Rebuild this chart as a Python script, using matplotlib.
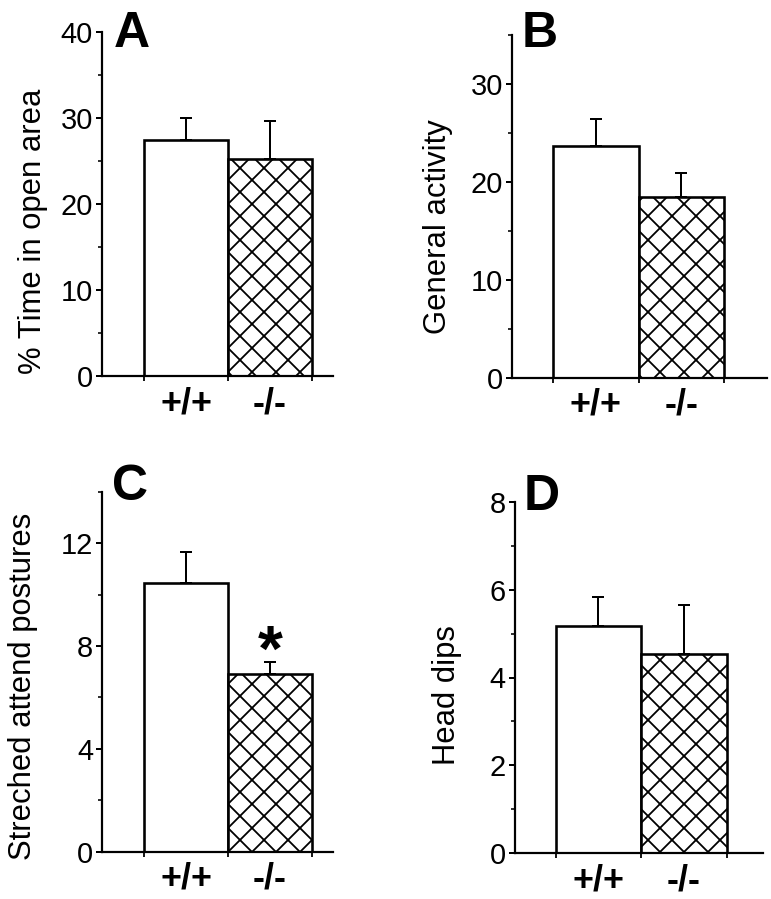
import matplotlib
matplotlib.use("Agg")
import matplotlib.pyplot as plt
from matplotlib.ticker import MultipleLocator

plt.rcParams['font.family'] = ['Liberation Sans', 'DejaVu Sans']
plt.rcParams['hatch.linewidth'] = 0.9

genotypes = ['+/+', '-/-']
panel_letters = ['A', 'B', 'C', 'D']
ylabels = ['% Time in open area', 'General activity',
           'Streched attend postures', 'Head dips']

time_open = [27.4, 25.2]
time_open_err = [2.6, 4.45]
activity = [23.7, 18.5]
activity_err = [2.75, 2.4]
sap = [10.44, 6.9]
sap_err = [1.23, 0.49]
head_dips = [5.17, 4.53]
head_dips_err = [0.66, 1.12]

means = [time_open, activity, sap, head_dips]
errs = [time_open_err, activity_err, sap_err, head_dips_err]
ymax = [40, 35, 14, 8]
major = [10, 10, 4, 2]

# axes boxes in figure fractions, x limits, label coords, letter positions
W, H = 771.0, 899.0
boxes = [
    [102 / W, 1 - 376 / H, 231 / W, 344 / H],
    [512 / W, 1 - 377.7 / H, 255 / W, 342.7 / H],
    [102 / W, 1 - 851.7 / H, 231 / W, 360 / H],
    [515 / W, 1 - 853.3 / H, 248 / W, 351.6 / H],
]
xlims = [(-1.0, 1.75), (-0.98, 2.0), (-1.0, 1.75), (-0.976, 1.925)]
label_xy = [(-0.30, 0.42), (-0.29, 0.44), (-0.34, 0.46), (-0.275, 0.45)]
letter_xy = [(114, 47), (522, 47), (112, 500), (524, 510)]

fig = plt.figure(figsize=(W / 144, H / 144), dpi=144)

x = [0, 1]
for i in range(4):
    ax = fig.add_axes(boxes[i])
    bars = ax.bar(x, means[i], width=1.0, color='white', edgecolor='black',
                  linewidth=1.3, zorder=2)
    bars[1].set_hatch('xx')
    ax.errorbar(x, means[i], yerr=[[0, 0], errs[i]], fmt='none',
                ecolor='black', elinewidth=1.0, capsize=3, capthick=1.0,
                zorder=3)
    ax.set_xlim(xlims[i])
    ax.set_ylim(0, ymax[i])
    for s in ['top', 'right']:
        ax.spines[s].set_visible(False)
    for s in ['left', 'bottom']:
        ax.spines[s].set_linewidth(1.1)
    ax.yaxis.set_major_locator(MultipleLocator(major[i]))
    ax.yaxis.set_minor_locator(MultipleLocator(major[i] / 2))
    ax.tick_params(axis='y', which='major', length=3, width=1.0, pad=1.5,
                   labelsize=14.5)
    ax.tick_params(axis='y', which='minor', length=1.8, width=0.8)
    # ticks at bar edges, labels at bar centres
    ax.set_xticks([-0.5, 0.5, 1.5])
    ax.set_xticklabels([])
    ax.set_xticks(x, minor=True)
    ax.set_xticklabels(genotypes, minor=True, fontweight='bold', fontsize=18)
    ax.tick_params(axis='x', which='major', length=2.5, width=0.9)
    ax.tick_params(axis='x', which='minor', length=0, pad=5)
    ax.set_ylabel(ylabels[i], fontsize=15.5, va='center')
    ax.yaxis.set_label_coords(*label_xy[i])
    lx, ly = letter_xy[i]
    fig.text(lx / W, 1 - ly / H, panel_letters[i], fontsize=25,
             fontweight='bold', ha='left', va='baseline')
    if i == 2:
        ax.text(1, 7.7, '*', fontsize=32, fontweight='bold', ha='center',
                va='center')

fig.savefig('out.png', dpi=144)
